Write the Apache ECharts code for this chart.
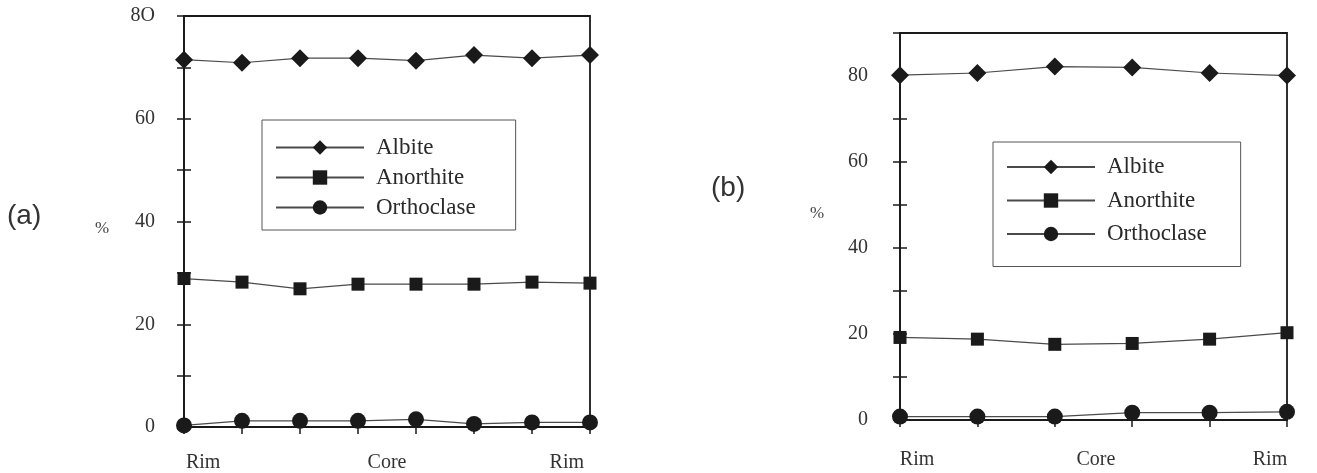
<!DOCTYPE html>
<html>
<head>
<meta charset="utf-8">
<title>Feldspar zoning profiles</title>
<script src="https://cdn.jsdelivr.net/npm/echarts@6/dist/echarts.min.js"></script>
<style>
  html, body { margin: 0; padding: 0; background: #fff; }
  #chart { width: 1317px; height: 473px; }
</style>
</head>
<body>
<div id="chart"></div>
<script>
// Series names
const seriesNames = ['Albite', 'Anorthite', 'Orthoclase'];

// Panel (a): 8 analyses along a rim-core-rim traverse (%)
const albiteA = [71.5, 70.9, 71.8, 71.8, 71.3, 72.4, 71.8, 72.4];
const anorthiteA = [28.9, 28.2, 26.9, 27.8, 27.8, 27.8, 28.2, 28.0];
const orthoclaseA = [0.3, 1.2, 1.2, 1.2, 1.5, 0.6, 0.9, 0.9];

// Panel (b): 6 analyses along a rim-core-rim traverse (%)
const albiteB = [80.2, 80.7, 82.2, 82.0, 80.7, 80.1];
const anorthiteB = [19.2, 18.8, 17.6, 17.8, 18.8, 20.3];
const orthoclaseB = [0.8, 0.8, 0.8, 1.7, 1.7, 1.9];

// Traverse labels and where they sit along each traverse (analysis index units)
const traverseLabels = ['Rim', 'Core', 'Rim'];
const traversePosA = [0.33, 3.5, 6.6];
const traversePosB = [0.22, 2.53, 4.78];

// Y tick labels (every 20 %)
const yTicksA = ['0', '20', '40', '60', '8O'];
const yTicksB = ['0', '20', '40', '60', '80'];

const serif = 'Liberation Serif';
const ink = '#1a1a1a';
const lineInk = '#4a4a4a';

const symbols = [
  { symbol: 'diamond', size: [18, 18] },
  { symbol: 'rect', size: 13 },
  { symbol: 'circle', size: 16 }
];

function pairs(values) {
  return values.map((v, i) => [i, v]);
}

function makeSeries(grid, lists) {
  return lists.map((vals, k) => ({
    name: seriesNames[k],
    type: 'line',
    xAxisIndex: grid,
    yAxisIndex: grid * 2,
    data: pairs(vals),
    symbol: symbols[k].symbol,
    symbolSize: symbols[k].size,
    showAllSymbol: true,
    clip: false,
    itemStyle: { color: ink },
    lineStyle: { color: lineInk, width: 1.2 },
    emphasis: { disabled: true },
    z: 3
  }));
}

function xAxisFor(grid, count, positions, fontSize, margin) {
  return {
    type: 'value',
    gridIndex: grid,
    min: 0,
    max: count - 1,
    interval: 1,
    splitLine: { show: false },
    axisLine: { show: true, onZero: false, lineStyle: { color: ink, width: 1.8 } },
    axisTick: { show: true, inside: false, length: 7, lineStyle: { color: ink, width: 1.5 } },
    axisLabel: {
      show: true,
      customValues: positions,
      margin: margin,
      fontFamily: serif,
      fontSize: fontSize,
      color: '#333',
      formatter: function (val) {
        let best = 0;
        positions.forEach((p, i) => { if (Math.abs(p - val) < Math.abs(positions[best] - val)) best = i; });
        return traverseLabels[best];
      }
    }
  };
}

function yAxesFor(grid, max, labels, fontSize, margin) {
  const main = {
    type: 'value',
    gridIndex: grid,
    min: 0,
    max: max,
    interval: 10,
    splitLine: { show: false },
    axisLine: { show: true, lineStyle: { color: ink, width: 1.8 } },
    axisTick: { show: true, inside: false, length: 7, lineStyle: { color: ink, width: 1.5 } },
    axisLabel: {
      margin: margin,
      fontFamily: serif,
      fontSize: fontSize,
      color: '#333',
      formatter: function (val) {
        return val % 20 === 0 ? (labels[val / 20] || '') : '';
      }
    }
  };
  // companion axis so the ticks cross the axis line on both sides
  const inner = {
    type: 'value',
    gridIndex: grid,
    min: 0,
    max: max,
    interval: 10,
    position: 'left',
    splitLine: { show: false },
    axisLine: { show: false },
    axisTick: { show: true, inside: true, length: 7, lineStyle: { color: ink, width: 1.5 } },
    axisLabel: { show: false }
  };
  return [main, inner];
}

function legendFor(left, top, itemGap, padding) {
  return {
    show: true,
    orient: 'vertical',
    left: left,
    top: top,
    data: seriesNames,
    itemWidth: 88,
    itemHeight: 18,
    itemGap: itemGap,
    padding: padding,
    borderColor: '#555',
    borderWidth: 1,
    backgroundColor: '#fff',
    selectedMode: false,
    textStyle: { fontFamily: serif, fontSize: 23, color: '#2a2a2a', padding: [0, 0, 0, 7] }
  };
}

const chart = echarts.init(document.getElementById('chart'), null, { renderer: 'canvas' });

const yA = yAxesFor(0, 80, yTicksA, 20, 29);
const yB = yAxesFor(1, 90, yTicksB, 20, 32);

const tagStyle = { fontFamily: 'Liberation Sans', fontSize: 28, fontWeight: 'normal', color: '#333' };
const unitStyle = { fontFamily: serif, fontSize: 17, fontWeight: 'normal', color: '#444' };

chart.setOption({
  backgroundColor: '#ffffff',
  animation: false,
  title: [
    { text: '(a)', left: 7, top: 202, padding: 0, textStyle: tagStyle },
    { text: '(b)', left: 711, top: 174, padding: 0, textStyle: tagStyle },
    { text: '%', left: 95, top: 220, padding: 0, textStyle: unitStyle },
    { text: '%', left: 810, top: 205, padding: 0, textStyle: unitStyle }
  ],
  grid: [
    { left: 184, right: 727, top: 16, bottom: 45, show: true, borderColor: ink, borderWidth: 1.8, backgroundColor: 'transparent' },
    { left: 900, right: 30, top: 33, bottom: 53, show: true, borderColor: ink, borderWidth: 1.8, backgroundColor: 'transparent' }
  ],
  legend: [
    legendFor(262, 120, 7, [16, 40, 11, 13]),
    legendFor(993, 142, 10.5, [13.5, 34, 21, 13])
  ],
  xAxis: [
    xAxisFor(0, albiteA.length, traversePosA, 20, 26),
    xAxisFor(1, albiteB.length, traversePosB, 20, 30)
  ],
  yAxis: [yA[0], yA[1], yB[0], yB[1]],
  series: [
    ...makeSeries(0, [albiteA, anorthiteA, orthoclaseA]),
    ...makeSeries(1, [albiteB, anorthiteB, orthoclaseB])
  ]
});
</script>
</body>
</html>
